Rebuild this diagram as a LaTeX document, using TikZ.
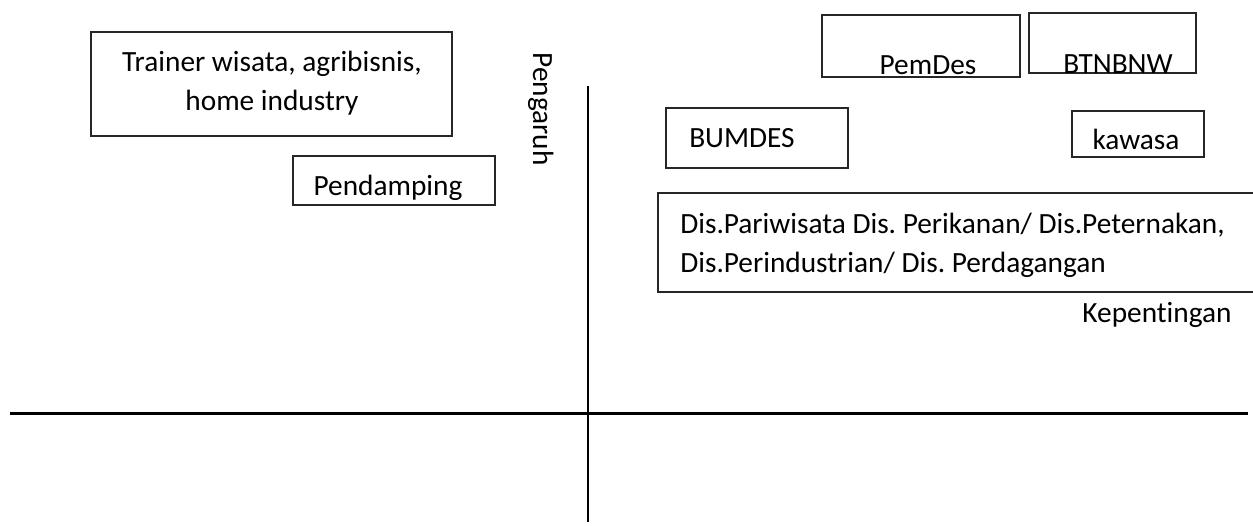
\documentclass[tikz,border=0pt]{standalone}
\usepackage{fontspec}
\setmainfont{Carlito}[Ligatures=NoCommon]
\frenchspacing
\usetikzlibrary{fit}
\begin{document}
\begin{tikzpicture}[x=0.75pt, y=-0.75pt,
  every node/.style={font=\fontsize{22}{29.25}\selectfont, inner sep=0pt},
  stakebox/.style={draw=black!85, line width=1pt, inner sep=0pt},
  caption/.style={anchor=base},
  axisline/.style={draw=black, line width=#1},
  axisline/.default=1.5pt]
  \useasboundingbox (0,0) rectangle (1253,525);

  % axes of the influence/interest grid
  \coordinate (yTop) at (588,86);
  \coordinate (yBot) at (588,522);
  \coordinate (xLeft) at (10,413.5);
  \coordinate (xRight) at (1248,413.5);
  \draw[axisline=1.5pt] (yTop) -- (yBot);
  \draw[axisline=2.4pt] (xLeft) -- (xRight);

  % axis labels
  \node[caption, rotate=-90] (pengaruh) at (533,109) {Pengaruh};
  \node[caption] (kepentingan) at (1157,322) {Kepentingan};

  % stakeholder boxes (multi-line captions are placed by their last baseline)
  \node[stakebox, fit={(91,32) (452,136)}] (trainer) {};
  \node[caption, align=center] (trainerTxt) at (272,110) {Trainer wisata, agribisnis,\\home industry};

  \node[stakebox, fit={(293,156) (495,205)}] (pendamping) {};
  \node[caption] (pendampingTxt) at (388,195) {Pendamping};

  \node[stakebox, fit={(822,15) (1020,77)}] (pemdes) {};
  \node[caption] (pemdesTxt) at (928,74) {PemDes};

  \node[stakebox, fit={(1029,13) (1196,73)}] (btnbnw) {};
  \node[caption] (btnbnwTxt) at (1118,73) {BTNBNW};

  \node[stakebox, fit={(666,108) (848,168)}] (bumdes) {};
  \node[caption, anchor=base west] (bumdesTxt) at (689,147) {BUMDES};

  \node[stakebox, fit={(1072,111) (1204,157)}] (kawasa) {};
  \node[caption] (kawasaTxt) at (1136,149) {kawasa};

  \node[stakebox, fit={(658,193) (1262,292)}] (dinas) {};
  \node[caption, anchor=base west, align=left] (dinasTxt) at (680,272)
    {Dis.Pariwisata Dis. Perikanan/ Dis.Peternakan,\\Dis.Perindustrian/ Dis. Perdagangan};
\end{tikzpicture}
\end{document}
